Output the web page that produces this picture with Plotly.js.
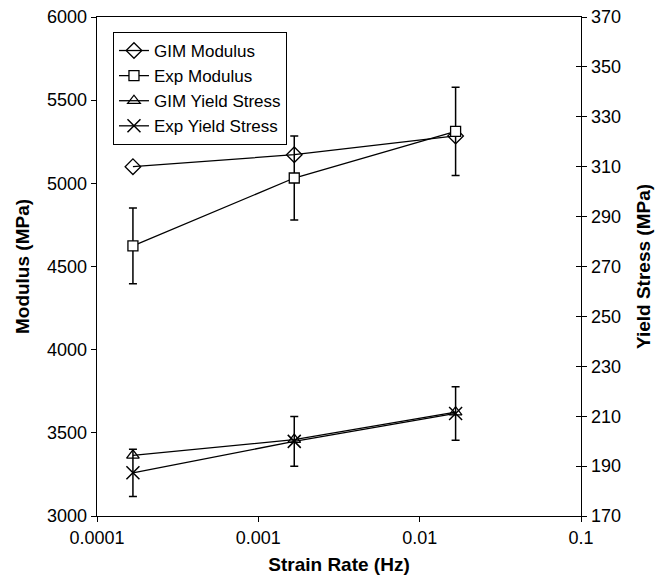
<!DOCTYPE html>
<html>
<head>
<meta charset="utf-8">
<script src="https://cdn.plot.ly/plotly-3.0.1.min.js"></script>
<style>html,body{margin:0;padding:0;background:#fff;}#chart{width:658px;height:577px;}</style>
</head>
<body>
<div id="chart"></div>
<script>
const strainRate = [0.000167, 0.00167, 0.0167];
const gimModulus = [5100, 5172, 5285];
const expModulus = [4624, 5032, 5312];
const expModulusErr = [228, 252, 265];
const gimYield = [194.3, 200.6, 211.6];
const expYield = [187.3, 199.9, 211.1];
const expYieldErr = [9.5, 10, 10.7];
const xTickVals = [0.0001, 0.001, 0.01, 0.1];
const xTickText = ['0.0001', '0.001', '0.01', '0.1'];

const FONT = 'Arial, "Liberation Sans", sans-serif';
const lineStyle = {color: '#000', width: 1.3};

const traces = [
  {x: strainRate, y: gimModulus, name: 'GIM Modulus', mode: 'lines+markers', line: lineStyle,
   marker: {symbol: 'diamond-open', size: 12, color: '#000', line: {width: 1.3}}},
  {x: strainRate, y: expModulus, name: 'Exp Modulus', mode: 'lines+markers', line: lineStyle,
   marker: {symbol: 'square', size: 10, color: '#fff', line: {width: 1.3, color: '#000'}},
   error_y: {type: 'data', array: expModulusErr, color: '#000', thickness: 1.5, width: 4}},
  {x: strainRate, y: gimYield, name: 'GIM Yield Stress', mode: 'lines+markers', line: lineStyle, yaxis: 'y2',
   marker: {symbol: 'triangle-up-open', size: 11, color: '#000', line: {width: 1.3}}},
  {x: strainRate, y: expYield, name: 'Exp Yield Stress', mode: 'lines+markers', line: lineStyle, yaxis: 'y2',
   marker: {symbol: 'x-thin-open', size: 13, color: '#000', line: {width: 1.5, color: '#000'}},
   error_y: {type: 'data', array: expYieldErr, color: '#000', thickness: 1.5, width: 4}}
];

const layout = {
  width: 658, height: 577,
  margin: {l: 97, r: 77, t: 17, b: 61},
  paper_bgcolor: '#fff', plot_bgcolor: '#fff',
  font: {family: FONT, size: 18, color: '#000'},
  showlegend: true,
  legend: {x: 0.033, y: 0.97, xanchor: 'left', yanchor: 'top', bordercolor: '#000', borderwidth: 1,
           bgcolor: '#fff', font: {family: FONT, size: 17, color: '#000'}, traceorder: 'normal'},
  xaxis: {type: 'log', range: [-4, -1], tickvals: xTickVals, ticktext: xTickText,
          showline: true, linecolor: '#000', linewidth: 1.3, mirror: true,
          ticks: 'outside', ticklen: 5, tickcolor: '#000', showgrid: false, zeroline: false,
          tickfont: {family: FONT, size: 18},
          title: {text: 'Strain Rate (Hz)', font: {family: FONT, size: 19, weight: 'bold'}, standoff: 10}},
  yaxis: {range: [3000, 6000], dtick: 500, tick0: 3000, showline: true, linecolor: '#000', linewidth: 1.3,
          ticks: 'outside', ticklen: 5, tickcolor: '#000', showgrid: false, zeroline: false,
          tickfont: {family: FONT, size: 18},
          title: {text: 'Modulus (MPa)', font: {family: FONT, size: 19, weight: 'bold'}, standoff: 12}},
  yaxis2: {range: [170, 370], dtick: 20, tick0: 170, overlaying: 'y', side: 'right',
           showline: true, linecolor: '#000', linewidth: 1.3,
           ticks: 'outside', ticklen: 5, tickcolor: '#000', showgrid: false, zeroline: false,
           tickfont: {family: FONT, size: 18},
           title: {text: 'Yield Stress (MPa)', font: {family: FONT, size: 19, weight: 'bold'}, standoff: 16}},
  yaxis3: {range: [170, 370], dtick: 20, tick0: 170, overlaying: 'y', side: 'right',
           showline: false, ticks: 'inside', ticklen: 5, tickcolor: '#000', showticklabels: false,
           showgrid: false, zeroline: false}
};

// invisible helper trace so that yaxis3 draws (inside ticks give a crossing tick look)
traces.push({x: [strainRate[0]], y: [gimYield[0]], yaxis: 'y3', mode: 'markers', showlegend: false,
             hoverinfo: 'skip', marker: {opacity: 0}});

Plotly.newPlot('chart', traces, layout, {staticPlot: true, displayModeBar: false});
</script>
</body>
</html>
